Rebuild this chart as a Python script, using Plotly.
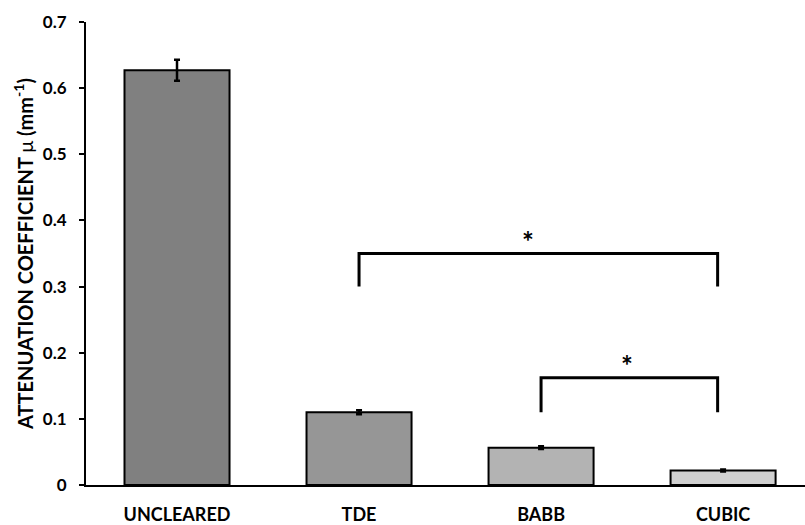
import plotly.graph_objects as go

categories = ["UNCLEARED", "TDE", "BABB", "CUBIC"]
values = [0.627, 0.110, 0.0565, 0.022]
errors = [0.016, 0.003, 0.002, 0.0015]
colors = ["#808080", "#969696", "#b3b3b3", "#d0d0d0"]
y_ticks = [0, 0.1, 0.2, 0.3, 0.4, 0.5, 0.6, 0.7]

# significance brackets: (left index, right index, bar height, leg bottom, star x)
brackets = [
    (1.0, 2.97, 0.350, 0.300, 1.93),
    (2.0, 2.97, 0.162, 0.110, 2.47),
]

FONT = "Lato, 'Open Sans', sans-serif"

fig = go.Figure()
fig.add_trace(go.Bar(
    x=list(range(len(categories))),
    y=values,
    marker=dict(color=colors, line=dict(color="black", width=2)),
    width=0.577,
    error_y=dict(type="data", array=errors, visible=True, color="black",
                 thickness=2.5, width=3),
    showlegend=False,
))

for x0, x1, yb, yl, xs in brackets:
    fig.add_shape(type="path",
                  path=f"M {x0} {yl} L {x0} {yb} L {x1} {yb} L {x1} {yl}",
                  xref="x", yref="y", line=dict(color="black", width=3))
    fig.add_annotation(x=xs, y=yb, text="*", showarrow=False,
                       yanchor="bottom", yshift=-6,
                       font=dict(size=28, color="black", family=FONT, weight="bold"))

fig.update_layout(
    width=805, height=525,
    margin=dict(l=86, r=0, t=22, b=40),
    paper_bgcolor="white", plot_bgcolor="white",
    font=dict(family=FONT, size=16, color="black", weight="bold"),
)
fig.update_xaxes(
    range=[-0.5, 3.45],
    tickmode="array", tickvals=list(range(len(categories))),
    ticktext=categories,
    showline=True, linecolor="black", linewidth=2,
    ticks="", showgrid=False, zeroline=False,
    ticklabelstandoff=12,
    tickfont=dict(size=18, family=FONT, weight="bold"),
)
fig.update_yaxes(
    range=[0, 0.7],
    tickmode="array", tickvals=y_ticks,
    ticktext=[f"{t:g}" for t in y_ticks],
    showline=True, linecolor="black", linewidth=2,
    ticks="outside", ticklen=5, tickwidth=2, tickcolor="black",
    showgrid=False, zeroline=False,
    ticklabelstandoff=9,
    tickfont=dict(size=17, family=FONT, weight="bold"),
    title=dict(text="ATTENUATION COEFFICIENT <span style='font-weight:normal'>μ</span> (mm<sup>-1</sup>)",
               font=dict(size=20, family=FONT, weight="bold"), standoff=4),
)

fig.write_html("out.html", config={"displayModeBar": False},
               post_script="document.body.style.margin='0';")
